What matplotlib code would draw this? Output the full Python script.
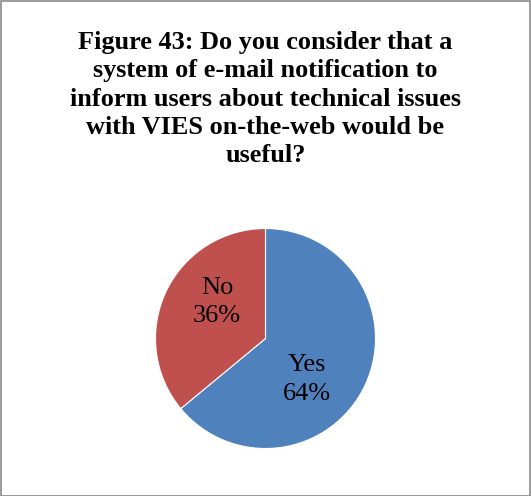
import matplotlib
matplotlib.use("Agg")
import matplotlib.pyplot as plt
import numpy as np
from matplotlib.patches import Rectangle

labels = ["Yes", "No"]
values = [64, 36]
colors = ["#4F81BD", "#C0504D"]
title = ("Figure 43: Do you consider that a\nsystem of e-mail notification to\n"
         "inform users about technical issues\nwith VIES on-the-web would be\nuseful?")

W, H = 531, 496
fig = plt.figure(figsize=(W / 100, H / 100), dpi=100)
fig.patch.set_facecolor("white")
fig.add_artist(Rectangle((0.5 / W, 0.5 / H), 1 - 1.5 / W, 1 - 1.5 / H, transform=fig.transFigure,
                         fill=False, edgecolor="#8a8a8a", linewidth=1.2))

fig.text(265.5 / W, 1 - 99 / H, title, ha="center", va="center", fontsize=18.9,
         fontweight="bold", family="Liberation Serif", linespacing=1.3)

cx, cy, r = 265.5, 338.5, 110
ax = fig.add_axes([(cx - r) / W, (H - cy - r) / H, 2 * r / W, 2 * r / H])
wedges, _ = ax.pie(values, colors=colors, startangle=90, counterclock=False,
                   wedgeprops=dict(edgecolor="white", linewidth=0.8))
ax.set_xlim(-1, 1)
ax.set_ylim(-1, 1)
ax.set_aspect("equal")
ax.axis("off")

label_pos = [(0.53, -45), (0.55, 143)]
for lab, v, (d, a) in zip(labels, values, label_pos):
    x = d * np.cos(np.radians(a))
    y = d * np.sin(np.radians(a))
    ax.text(x, y, f"{lab}\n{v}%", ha="center", va="center", fontsize=19,
            family="Liberation Serif", linespacing=1.4)

fig.savefig("out.png", dpi=100)
